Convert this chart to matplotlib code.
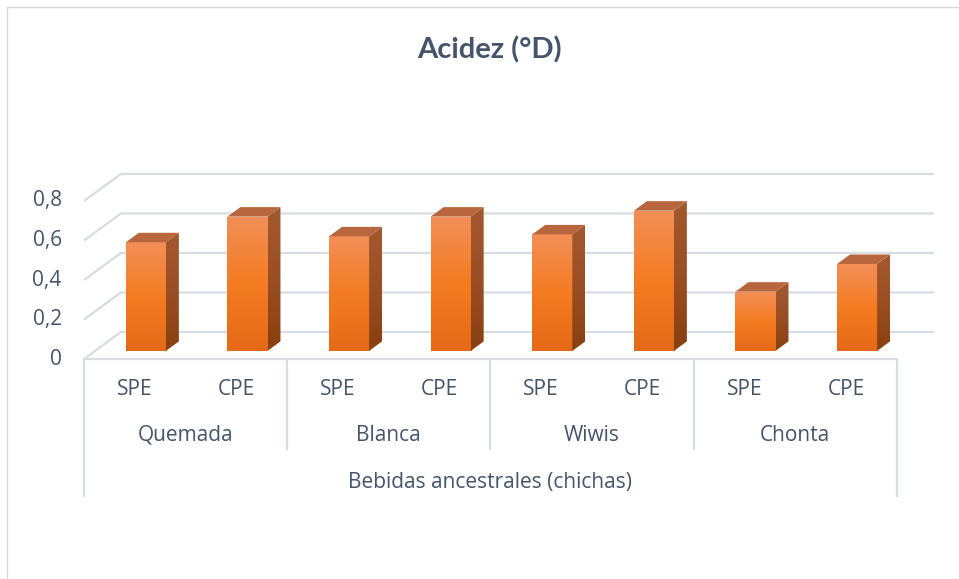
import numpy as np
import matplotlib.pyplot as plt
from matplotlib.patches import Polygon, Rectangle
from matplotlib.colors import LinearSegmentedColormap

plt.rcParams['font.family'] = ['Open Sans', 'DejaVu Sans']

##########
## Data ##
##########
groups = ['Quemada', 'Blanca', 'Wiwis', 'Chonta']
treatments = ['SPE', 'CPE']
spe_values = [0.55, 0.58, 0.59, 0.30]
cpe_values = [0.68, 0.68, 0.71, 0.44]
y_ticks = [0, 0.2, 0.4, 0.6, 0.8]
y_ticklabels = ['0', '0,2', '0,4', '0,6', '0,8']
title = 'Acidez (°D)'
axis_title = 'Bebidas ancestrales (chichas)'

values = []
for s, c in zip(spe_values, cpe_values):
    values += [s, c]

############
## Styles ##
############
TEXT = '#44546A'
GRID = '#D9DCE1'
FS = 15
DX, DY = 0.364, 0.137        # full depth of the floor (data units)
D0, D1 = 0.30, 0.65          # bar front / back depth fraction
BAR_W = 0.394

front_cmap = LinearSegmentedColormap.from_list('front', ['#E56917', '#F47C22', '#F28F58'])
side_cmap = LinearSegmentedColormap.from_list('side', ['#88400F', '#9A4E24', '#A3592F'])
TOP = '#B8663D'

fig = plt.figure(figsize=(9.59, 5.79), dpi=100)
ax = fig.add_axes([0, 0, 1, 1])
XLIM = (-1.3268, 8.112)
YLIM = (-1.1139, 1.8177)

# chart frame
fig.patches.append(Rectangle((7 / 959, -0.1), 1.1, 1 - 7 / 579 + 0.1, transform=fig.transFigure,
                             fill=False, edgecolor='#D9D9D9', lw=1))

# side wall diagonals + back wall gridlines
for v in y_ticks:
    ax.plot([-0.5, -0.5 + DX, 7.5 + DX], [v, v + DY, v + DY], color=GRID, lw=1.6,
            solid_capstyle='butt', zorder=1)

# y tick labels
for v, lab in zip(y_ticks, y_ticklabels):
    ax.text(-0.72, v, lab, ha='right', va='center', fontsize=FS, color=TEXT)

# bars
grad = np.linspace(0, 1, 256).reshape(-1, 1)
for i, val in enumerate(values):
    x0 = i - BAR_W / 2 + D0 * DX
    y0 = D0 * DY
    ddx, ddy = (D1 - D0) * DX, (D1 - D0) * DY
    front = Rectangle((x0, y0), BAR_W, val, facecolor='none', edgecolor='none')
    ax.add_patch(front)
    im = ax.imshow(grad, cmap=front_cmap, origin='lower', aspect='auto',
                   extent=[x0, x0 + BAR_W, y0, y0 + val], zorder=3)
    im.set_clip_path(front)
    side = Polygon([(x0 + BAR_W, y0), (x0 + BAR_W + ddx, y0 + ddy),
                    (x0 + BAR_W + ddx, y0 + ddy + val), (x0 + BAR_W, y0 + val)],
                   closed=True, facecolor='none', edgecolor='none')
    ax.add_patch(side)
    im2 = ax.imshow(grad, cmap=side_cmap, origin='lower', aspect='auto',
                    extent=[x0 + BAR_W, x0 + BAR_W + ddx, y0, y0 + ddy + val], zorder=3)
    im2.set_clip_path(side)
    top = Polygon([(x0, y0 + val), (x0 + BAR_W, y0 + val), (x0 + BAR_W + ddx, y0 + val + ddy),
                   (x0 + ddx, y0 + val + ddy)], closed=True, facecolor=TOP, edgecolor='none', zorder=3)
    ax.add_patch(top)

# category axis: line, separators, labels
ax.plot([-0.5, 7.5], [0, 0], color=GRID, lw=1.6, zorder=2)
for k, xs in enumerate([-0.5, 1.5, 3.5, 5.5, 7.5]):
    low = -0.6987 if k in (0, 4) else -0.4608
    ax.plot([xs, xs], [0, low], color=GRID, lw=1.6, solid_capstyle='butt', zorder=2)

for g, name in enumerate(groups):
    for t, tr in enumerate(treatments):
        ax.text(2 * g + t, -0.152, tr, ha='center', va='center', fontsize=FS, color=TEXT)
    ax.text(2 * g + 0.5, -0.385, name, ha='center', va='center', fontsize=FS, color=TEXT)
ax.text(3.5, -0.623, axis_title, ha='center', va='center', fontsize=FS, color=TEXT)

fig.text(489 / 959, 1 - 50 / 579, title, ha='center', va='center', fontsize=21,
         fontweight='bold', color=TEXT, family=['Lato', 'DejaVu Sans'])

ax.set_xlim(*XLIM)
ax.set_ylim(*YLIM)
ax.axis('off')

fig.savefig('out.png', dpi=100)
